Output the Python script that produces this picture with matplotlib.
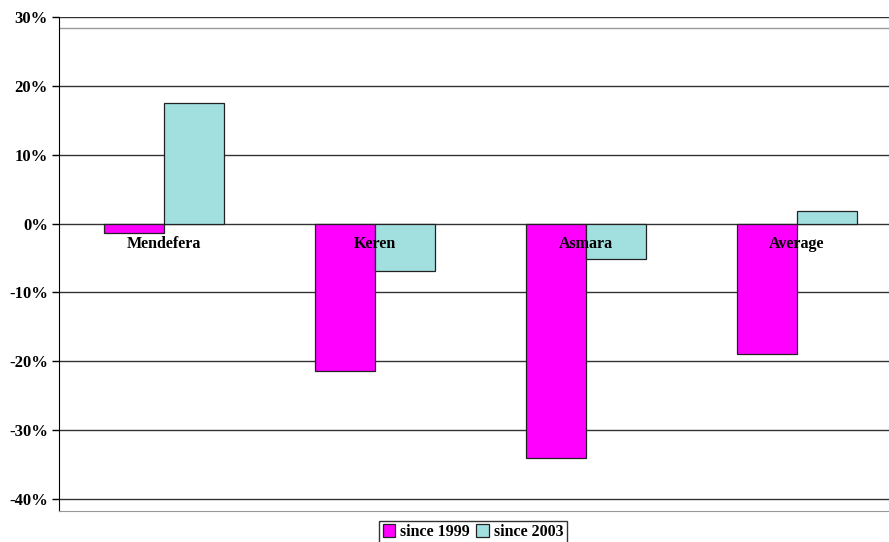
import matplotlib.pyplot as plt
import numpy as np
from matplotlib.ticker import FuncFormatter

plt.rcParams['font.family'] = ['Liberation Serif', 'DejaVu Serif']

cities = ['Mendefera', 'Keren', 'Asmara', 'Average']
since_1999 = [-0.013, -0.214, -0.340, -0.189]
since_2003 = [0.175, -0.069, -0.052, 0.018]
yticks = [-0.4, -0.3, -0.2, -0.1, 0.0, 0.1, 0.2, 0.3]

W, H = 889, 542
fig = plt.figure(figsize=(W / 100, H / 100), dpi=100)
fig.patch.set_facecolor('white')

# axes in pixel coords: left 59, top 17 (30%), bottom 511, right ~902 (beyond the edge)
left, right, top, bottom = 59, 902, 17, 511
ax = fig.add_axes([left / W, 1 - bottom / H, (right - left) / W, (bottom - top) / H])

x = np.arange(len(cities))
bw = 0.285
ax.bar(x - bw / 2, since_1999, bw, color='#ff00ff', edgecolor='#222222', lw=0.9,
       label='since 1999', zorder=3)
ax.bar(x + bw / 2, since_2003, bw, color='#a2dfdf', edgecolor='#222222', lw=0.9,
       label='since 2003', zorder=3)

per10 = (499 - 17) / 7
ax.set_ylim(-0.4 - (bottom - 499) / per10 * 0.1, 0.3)
ax.set_xlim(-0.5, 3.5)
ax.set_yticks(yticks)
ax.yaxis.set_major_formatter(FuncFormatter(lambda v, p: f'{v * 100:.0f}%'))
ax.tick_params(axis='y', length=5, width=1, labelsize=12, pad=3)
for lab in ax.get_yticklabels():
    lab.set_fontweight('bold')
ax.set_xticks([])
for yv in yticks:
    ax.axhline(yv, color='#333333', lw=1, zorder=1)

# plot area frame (grey), slightly inside the top gridline
ax.axhline(0.3 - (28 - 17) / per10 * 0.1, color='#999999', lw=1, zorder=1)
for s in ['top', 'right']:
    ax.spines[s].set_visible(False)
ax.spines['bottom'].set_color('#999999')
ax.spines['left'].set_color('black')

for xi, name in zip(x, cities):
    ax.text(xi, -0.013 - (248 - 233) / per10 * 0.1 + 0.005, name, ha='center', va='center',
            fontsize=11.5, fontweight='bold', zorder=4)

leg = fig.legend(loc='center', bbox_to_anchor=(473 / W, 1 - 532 / H), ncol=2,
                 prop={'weight': 'bold', 'size': 11.5}, frameon=True, fancybox=False,
                 handlelength=0.8, handleheight=0.8, handletextpad=0.3, columnspacing=0.4,
                 borderpad=0.2, borderaxespad=0)
leg.get_frame().set_edgecolor('black')
leg.get_frame().set_linewidth(1)

fig.savefig('out.png', dpi=100, facecolor='white')
